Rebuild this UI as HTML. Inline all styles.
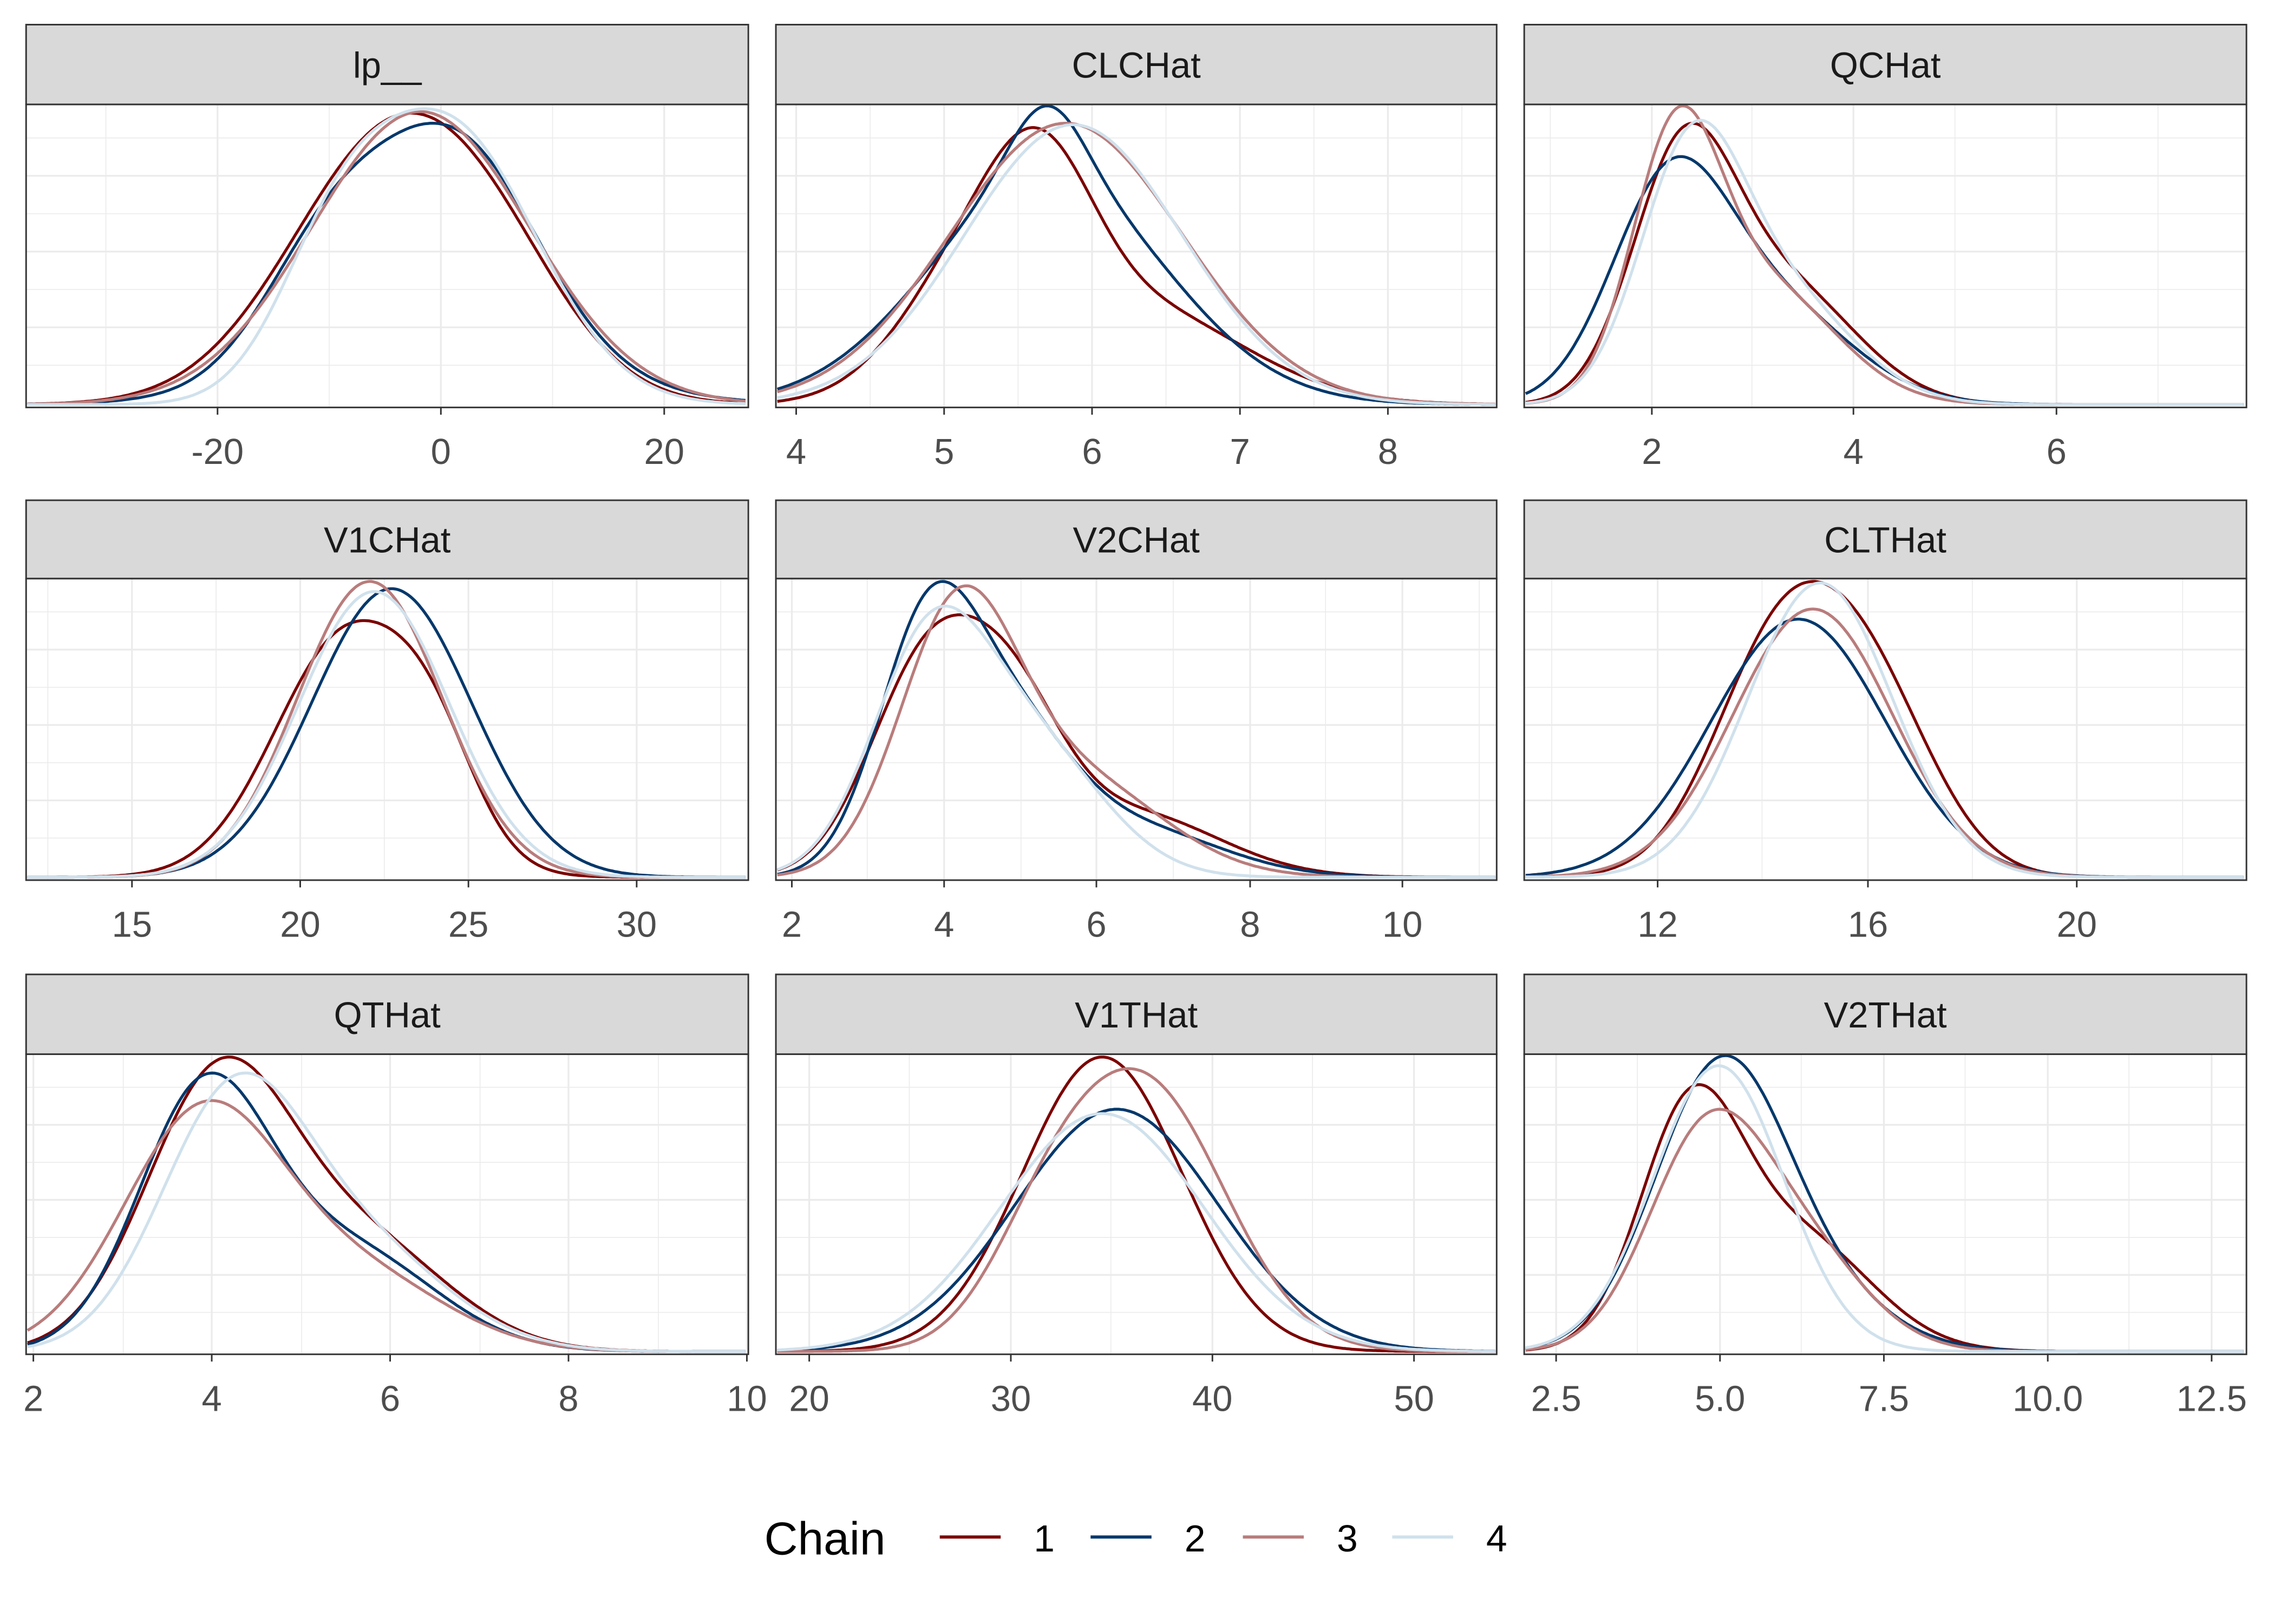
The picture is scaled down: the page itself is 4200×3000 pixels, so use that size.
<!DOCTYPE html>
<html><head><meta charset="utf-8"><style>html,body{margin:0;padding:0;background:#fff}svg{display:block}</style></head>
<body>
<svg id="s" xmlns="http://www.w3.org/2000/svg" width="4200" height="3000" viewBox="0 0 1568 1120" preserveAspectRatio="none" font-family="'Liberation Sans', Arial, sans-serif"></svg>
<script>
const S=document.getElementById('s');let h='';
const cols=['#7B0000','#04386B','#B97C7C','#D0E1EC'];
const colsX=[[18,516],[535,1032],[1051,1549]];
const rows=[[17,72,281],[345,399,607],[672,727,934]];
const panels=[
{t:'lp__',ticks:[[150,'-20'],[304,'0'],[458,'20']],minor:[73,227,381,515],
 c:[[[275,72,1],[350,50,0.15]],[[225,45,0.5],[315,55,0.9],[300,90,0.3]],[[290,75,1]],[[230,40,0.4],[310,60,1]]],pk:[78,85,77,75]},
{t:'CLCHat',ticks:[[549,'4'],[651,'5'],[753,'6'],[855,'7'],[957,'8']],minor:[600,702,804,906,1008],
 c:[[[675,50,0.8],[720,35,0.7],[780,75,0.6]],[[722,80,1],[722,25,0.3]],[[735,80,1]],[[740,75,1]]],pk:[88,73,85,86]},
{t:'QCHat',ticks:[[1139,'2'],[1278,'4'],[1418,'6']],minor:[1069,1208,1348,1488],
 c:[[[1160,35,1],[1230,50,0.5]],[[1150,40,1],[1220,55,0.5]],[[1155,30,1],[1215,50,0.5]],[[1165,35,1],[1225,50,0.5]]],pk:[85,108,73,83]},
{t:'V1CHat',ticks:[[91,'15'],[207,'20'],[323,'25'],[439,'30']],minor:[33,149,265,381,497],
 c:[[[240,50,1],[300,30,0.3]],[[270,55,1]],[[255,50,1]],[[258,52,1]]],pk:[428,406,401,408]},
{t:'V2CHat',ticks:[[546,'2'],[651,'4'],[756,'6'],[862,'8'],[967,'10']],minor:[598,704,809,914,1020],
 c:[[[640,40,1],[700,35,0.6],[780,60,0.3]],[[640,35,1],[700,40,0.5],[780,60,0.2]],[[660,40,1],[740,60,0.4]],[[640,40,1],[710,50,0.6]]],pk:[424,401,404,418]},
{t:'CLTHat',ticks:[[1143,'12'],[1288,'16'],[1432,'20']],minor:[1070,1215,1360,1505],
 c:[[[1225,45,1],[1290,45,0.8]],[[1240,60,1]],[[1250,55,1]],[[1255,50,1]]],pk:[401,427,420,402]},
{t:'QTHat',ticks:[[23,'2'],[146,'4'],[269,'6'],[392,'8'],[515,'10']],minor:[85,208,331,454],
 c:[[[150,50,1],[250,60,0.4]],[[140,45,1],[240,60,0.4]],[[140,55,1],[250,60,0.3]],[[160,50,1],[250,60,0.4]]],pk:[729,740,759,740]},
{t:'V1THat',ticks:[[558,'20'],[697,'30'],[836,'40'],[975,'50']],minor:[627,766,905],
 c:[[[760,55,1]],[[770,70,1]],[[790,55,1],[720,40,0.3]],[[760,70,1]]],pk:[729,765,737,768]},
{t:'V2THat',ticks:[[1073,'2.5'],[1186,'5.0'],[1299,'7.5'],[1412,'10.0'],[1525,'12.5']],minor:[1129,1242,1355,1468],
 c:[[[1165,35,1],[1240,50,0.5]],[[1185,45,1],[1250,50,0.2]],[[1175,40,1],[1240,45,0.5]],[[1185,45,1]]],pk:[748,728,765,735]}
];
panels.forEach((p,i)=>{
 const [x0,x1]=colsX[i%3];const [st,pt,pb]=rows[Math.floor(i/3)];
 h+=`<rect x="${x0}" y="${pt}" width="${x1-x0}" height="${pb-pt}" fill="#fff"/>`;
 const H=pb-pt;
 for(let k=1;k<8;k++){const y=pt+H*k/8+(-3);h+=`<line x1="${x0}" x2="${x1}" y1="${y}" y2="${y}" stroke="#EBEBEB" stroke-width="${k%2?0.6:1.2}"/>`;}
 p.minor.forEach(x=>{if(x>x0&&x<x1)h+=`<line x1="${x}" x2="${x}" y1="${pt}" y2="${pb}" stroke="#EBEBEB" stroke-width="0.6"/>`;});
 p.ticks.forEach(([x])=>{h+=`<line x1="${x}" x2="${x}" y1="${pt}" y2="${pb}" stroke="#EBEBEB" stroke-width="1.2"/>`;});
 [0,1,2,3].forEach(j=>{
  const comp=p.c[j];const f=x=>comp.reduce((a,[m,s,w])=>a+w*Math.exp(-0.5*((x-m)/s)**2),0);
  let mx=0;for(let x=x0;x<=x1;x++)mx=Math.max(mx,f(x));
  const sc=(pb-2-p.pk[j])/mx;let d='';
  for(let x=x0+1;x<=x1-1;x+=1.5){d+=(d?'L':'M')+x.toFixed(1)+','+(pb-2-f(x)*sc).toFixed(1);}
  h+=`<path d="${d}" fill="none" stroke="${cols[j]}" stroke-width="2"/>`;
 });
 h+=`<rect x="${x0}" y="${pt}" width="${x1-x0}" height="${pb-pt}" fill="none" stroke="#333" stroke-width="1.1"/>`;
 h+=`<rect x="${x0}" y="${st}" width="${x1-x0}" height="${pt-st}" fill="#D9D9D9" stroke="#333" stroke-width="1.1"/>`;
 h+=`<text x="${(x0+x1)/2}" y="${(st+pt)/2+9}" text-anchor="middle" font-size="25" fill="#1A1A1A">${p.t}</text>`;
 p.ticks.forEach(([x,l])=>{h+=`<line x1="${x}" x2="${x}" y1="${pb}" y2="${pb+5}" stroke="#333" stroke-width="1.1"/><text x="${x}" y="${pb+39}" text-anchor="middle" font-size="25" fill="#4D4D4D">${l}</text>`;});
});
h+=`<text x="527" y="1072" font-size="32" fill="#000">Chain</text>`;
[[648,720],[752,824],[857,929],[960,1032]].forEach(([x,t],j)=>{h+=`<line x1="${x}" x2="${x+42}" y1="1060" y2="1060" stroke="${cols[j]}" stroke-width="2.2"/><text x="${t}" y="1070" text-anchor="middle" font-size="26" fill="#000">${j+1}</text>`;});
S.innerHTML=h;
</script>
</body></html>
